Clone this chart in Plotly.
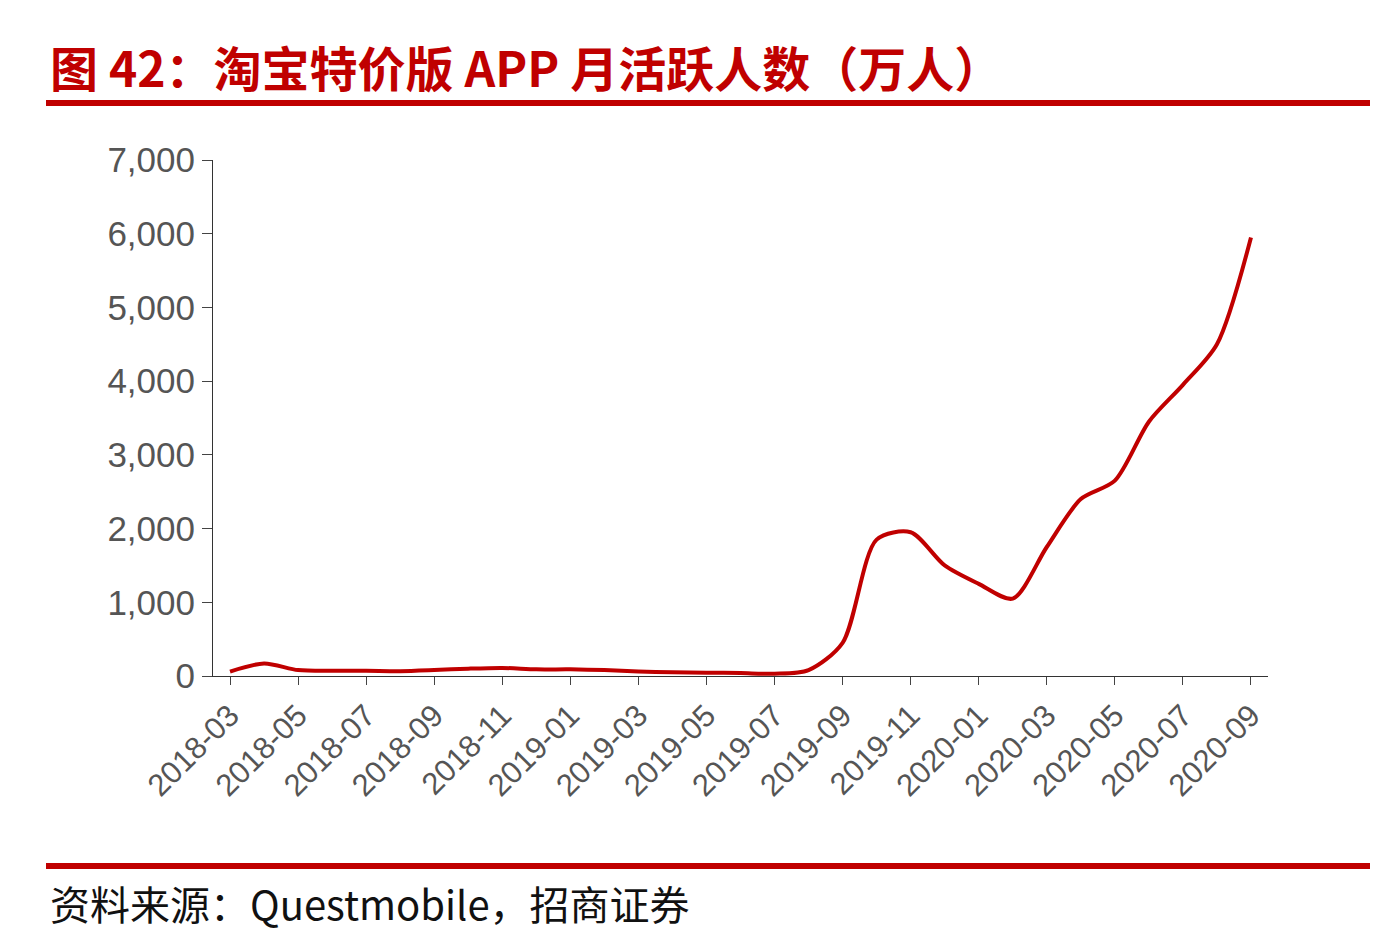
import plotly.graph_objects as go

months = ["2018-03","2018-04","2018-05","2018-06","2018-07","2018-08","2018-09","2018-10","2018-11","2018-12",
          "2019-01","2019-02","2019-03","2019-04","2019-05","2019-06","2019-07","2019-08","2019-09","2019-10",
          "2019-11","2019-12","2020-01","2020-02","2020-03","2020-04","2020-05","2020-06","2020-07","2020-08","2020-09"]
mau = [60,170,80,70,70,65,80,100,110,90,
       90,80,60,50,45,40,30,80,450,1850,
       1950,1500,1250,1050,1750,2400,2650,3450,3950,4500,5950]
tick_labels = months[::2]

fig = go.Figure(go.Scatter(x=months, y=mau, mode="lines",
                           line=dict(color="#C00000", width=4, shape="spline", smoothing=0.8)))
W, H = 1396, 942
L, R, T, B = 205, 1260, 152, 668
fig.update_layout(
    width=W, height=H, margin=dict(l=L, r=W-R, t=T, b=H-B),
    plot_bgcolor="white", paper_bgcolor="white", showlegend=False,
    font=dict(family="Noto Sans CJK SC, Liberation Sans", color="#333"),
)
fig.update_xaxes(type="category", range=[-0.5, 30.5], tickvals=tick_labels, ticktext=tick_labels, tickangle=-45,
                 showgrid=False, showline=True, linecolor="#333", ticks="outside", ticklen=8,
                 tickfont=dict(size=31, family="Liberation Sans", color="#555"))
fig.update_yaxes(range=[0, 7000], dtick=1000, tickformat=",", showgrid=False, showline=True,
                 linecolor="#333", ticks="outside", ticklen=10, zeroline=False,
                 tickfont=dict(size=35, family="Liberation Sans", color="#555"))
fig.add_annotation(text="<b>图 42：淘宝特价版 APP 月活跃人数（万人）</b>", xref="paper", yref="paper",
                   x=(40-L)/(R-L), y=(B-58)/(B-T), xanchor="left", yanchor="middle", showarrow=False,
                   font=dict(size=48, color="#C00000", family="Noto Sans CJK SC"))
fig.add_annotation(text="资料来源：Questmobile，招商证券", xref="paper", yref="paper",
                   x=(40-L)/(R-L), y=(B-895)/(B-T), xanchor="left", yanchor="middle", showarrow=False,
                   font=dict(size=40, color="#111", family="Noto Sans CJK SC"))
for yp in [95, 858]:
    fig.add_shape(type="line", xref="paper", yref="paper", x0=(38-L)/(R-L), x1=(1362-L)/(R-L),
                  y0=(B-yp)/(B-T), y1=(B-yp)/(B-T), line=dict(color="#C00000", width=6))
fig.write_html("out.html")
